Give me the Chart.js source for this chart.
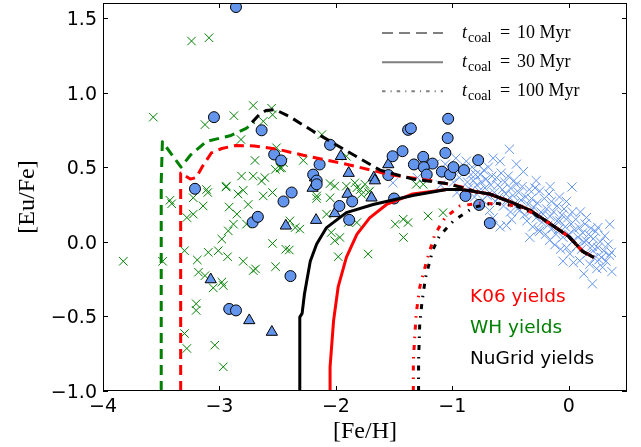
<!DOCTYPE html>
<html><head><meta charset="utf-8">
<script src="https://cdn.jsdelivr.net/npm/chart.js@4.4.0/dist/chart.umd.min.js"></script>
<style>html,body{margin:0;padding:0;background:#fff;overflow:hidden}canvas{display:block}</style>
</head><body>
<canvas id="c" width="641" height="447"></canvas>
<script>
// ---- axis ticks ----
const xTicks = [-4, -3, -2, -1, 0];
const yTicks = [-1.0, -0.5, 0.0, 0.5, 1.0, 1.5];

// ---- model curves ([Fe/H], [Eu/Fe]) ----
const trendTail = [[-0.80,0.335],[-0.68,0.32],[-0.51,0.27],[-0.33,0.21],[-0.16,0.12],[0.0,0.035],[0.12,-0.065],[0.215,-0.105]];
const trendTailLate = [[-0.16,0.12],[0.0,0.035],[0.12,-0.065],[0.215,-0.105]];

const wh10 = [[-3.50,-1.0],[-3.50,0.40],[-3.49,0.67],[-3.33,0.50],[-3.25,0.58],[-3.11,0.673],[-2.91,0.71],[-2.77,0.76],[-2.70,0.80]];
const k06_10 = [[-3.333,-1.0],[-3.333,0.46],[-3.25,0.42],[-3.20,0.43],[-3.15,0.50],[-3.07,0.595],[-2.98,0.625],[-2.86,0.645],[-2.70,0.642],[-2.50,0.62],[-2.28,0.58],[-1.91,0.52],[-1.54,0.45],[-1.19,0.41],[-0.99,0.38],[-0.88,0.36]];
const nug10 = [[-2.72,0.80],[-2.66,0.85],[-2.60,0.88],[-2.52,0.885],[-2.40,0.84],[-2.195,0.74],[-1.91,0.61],[-1.62,0.48],[-1.34,0.42],[-1.05,0.39],[-0.90,0.36]];
const k06_30 = [[-2.05,-1.0],[-2.05,-0.84],[-2.02,-0.53],[-1.98,-0.30],[-1.91,-0.105],[-1.82,0.05],[-1.71,0.16],[-1.565,0.25],[-1.34,0.32],[-1.05,0.35],[-0.92,0.35]];
const nug30 = [[-2.31,-1.0],[-2.31,-0.505],[-2.29,-0.48],[-2.27,-0.35],[-2.22,-0.13],[-2.165,-0.015],[-2.08,0.095],[-1.91,0.195],[-1.68,0.25],[-1.34,0.31],[-1.05,0.35],[-0.92,0.35]];
const k06_100 = [[-1.335,-1.0],[-1.335,-0.80],[-1.32,-0.60],[-1.31,-0.48],[-1.28,-0.305],[-1.22,-0.127],[-1.15,0.05],[-1.064,0.16],[-0.935,0.24],[-0.76,0.26],[-0.535,0.25],[-0.42,0.23],[-0.33,0.20]];
const nug100 = [[-1.29,-1.0],[-1.29,-0.80],[-1.28,-0.55],[-1.26,-0.40],[-1.23,-0.24],[-1.17,-0.06],[-1.11,0.04],[-0.99,0.14],[-0.82,0.23],[-0.65,0.26],[-0.45,0.24],[-0.33,0.20]];

// ---- observations ----
const haloX = [ // green crosses
[-3.24,1.345],[-3.09,1.367],[-3.568,0.835],[-2.876,0.845],[-2.71,0.913],[-2.552,0.895],[-3.124,0.785],[-2.624,0.807],[-2.544,0.851],[-2.815,0.685],[-2.51,0.63],[-2.695,0.545],[-2.45,0.53],[-2.52,0.485],[-2.466,0.495],[-2.81,0.44],[-2.71,0.44],[-2.638,0.407],[-2.61,0.43],[-2.94,0.373],[-3.11,0.35],[-3.10,0.33],[-2.84,0.32],[-2.796,0.345],[-3.225,0.295],[-2.544,0.33],[-2.624,0.307],[-3.425,0.278],
[-2.944,0.367],[-3.41,0.255],[-3.14,0.24],[-3.28,0.162],[-3.225,0.185],[-2.916,0.233],[-2.85,0.185],[-2.753,0.25],[-2.88,0.118],[-2.767,0.118],[-2.924,0.073],[-2.98,0.018],[-3.096,-0.071],[-3.01,-0.06],[-2.93,-0.10],[-3.30,-0.06],[-3.19,-0.122],[-3.826,-0.131],[-3.488,-0.131],[-2.796,-0.131],[-2.544,-0.011],[-2.43,-0.05],[-2.518,-0.167],[-2.71,-0.193],[-2.69,-0.182],[-3.18,-0.204],[-3.124,-0.227],[-3.053,-0.309],[-2.98,-0.27],[-2.967,-0.293],[-3.20,-0.415],[-3.20,-0.46],[-3.30,-0.615],[-3.28,-0.715],[-3.04,-0.693],[-2.967,-0.838],
[-2.12,0.718],[-2.28,0.545],[-1.91,0.573],[-2.48,0.495],[-2.165,0.307],[-2.05,0.39],[-2.01,0.373],[-1.91,0.373],[-1.837,0.395],[-1.79,0.35],[-1.75,0.385],[-1.72,0.33],[-2.05,0.295],[-1.31,0.385],
[-2.395,0.14],[-2.31,0.085],[-2.35,0.095],[-2.40,-0.055],[-2.165,0.29],[-2.08,0.185],[-2.04,0.062],[-2.01,0.007],[-1.98,-0.10],[-1.966,0.029],[-1.723,-0.082],[-1.894,0.129],[-1.82,0.129],[-1.49,0.118],[-1.422,0.151],[-1.38,0.129],[-1.42,0.029],[-1.208,0.173],[-1.08,0.195],[-1.82,0.362],[-1.78,0.318],[-1.71,0.34],[-1.25,0.385]];

const circles = [
[-2.858,1.573],[-3.047,0.835],[-2.638,0.747],[-2.53,0.585],[-2.47,0.545],[-3.21,0.355],[-2.45,0.27],[-2.38,0.33],[-2.715,0.13],[-2.67,0.167],[-2.39,-0.23],[-2.916,-0.45],[-2.858,-0.46],
[-1.036,0.824],[-1.38,0.75],[-1.356,0.76],[-1.04,0.695],[-2.05,0.65],[-1.428,0.607],[-1.06,0.595],[-1.513,0.573],[-1.25,0.569],[-1.33,0.518],[-1.17,0.524],[-1.245,0.50],[-2.14,0.518],[-1.22,0.45],[-1.09,0.47],[-1.02,0.45],[-2.195,0.45],[-2.165,0.41],[-1.55,0.447],
[-2.165,0.385],[-1.97,0.24],[-1.86,0.27],[-1.886,0.147],[-1.5,0.29],[-0.887,0.307],[-0.778,0.547],[-0.99,0.50],[-0.90,0.48],[-0.77,0.247],[-0.678,0.125]];

const triangles = [[-3.075,-0.253],[-2.744,-0.527],[-2.55,-0.605],[-2.43,0.107],[-1.957,0.573],[-1.89,0.46],[-1.55,0.518],[-1.674,0.43],[-2.18,0.43],[-2.2,0.36],[-1.9,0.32],[-1.694,0.295],[-2.17,0.145],[-2.009,0.19],[-1.665,0.41]];

const diskX = [ // light-blue crosses
[-1.51,0.395],[-1.30,0.43],[-1.22,0.48],[-1.15,0.52],[-1.10,0.38],[-1.06,0.52],[-1.02,0.45],[-0.99,0.40],[-0.97,0.56],[-0.96,0.33],[-0.94,0.43],[-0.93,0.48],
[-0.89,0.50],[-0.88,0.54],[-0.87,0.40],[-0.86,0.36],[-0.84,0.45],[-0.83,0.50],[-0.82,0.41],[-0.81,0.30],[-0.80,0.45],[-0.79,0.38],[-0.78,0.52],[-0.77,0.34],[-0.76,0.45],[-0.75,0.40],[-0.74,0.28],[-0.73,0.48],[-0.72,0.36],[-0.71,0.42],[-0.70,0.31],
[-0.69,0.50],[-0.68,0.21],[-0.67,0.38],[-0.66,0.44],[-0.65,0.56],[-0.65,0.16],[-0.64,0.33],[-0.63,0.27],[-0.62,0.43],[-0.61,0.38],[-0.60,0.30],[-0.59,0.54],[-0.59,0.10],[-0.58,0.46],[-0.57,0.35],[-0.56,0.24],[-0.55,0.40],[-0.54,0.32],[-0.535,0.11],[-0.53,0.28],[-0.52,0.44],[-0.51,0.62],[-0.50,0.36],[-0.50,0.20],
[-0.49,0.15],[-0.48,0.31],[-0.47,0.41],[-0.46,0.26],[-0.45,0.52],[-0.45,0.385],[-0.44,0.22],[-0.43,0.33],[-0.42,0.21],[-0.41,0.28],[-0.40,0.37],[-0.39,0.47],[-0.38,0.18],[-0.37,0.30],[-0.36,0.14],[-0.35,0.25],[-0.34,0.35],[-0.335,0.03],[-0.33,0.20],[-0.32,0.29],[-0.31,0.10],[-0.30,0.23],
[-0.29,0.36],[-0.28,0.41],[-0.28,0.16],[-0.27,0.26],[-0.26,0.08],[-0.25,0.34],[-0.25,0.07],[-0.24,0.20],[-0.23,0.13],[-0.22,0.185],[-0.21,0.29],[-0.20,0.05],[-0.19,0.22],[-0.18,0.11],[-0.17,0.32],[-0.165,0.01],[-0.16,0.37],[-0.16,0.17],[-0.15,0.27],[-0.14,0.09],[-0.13,0.20],[-0.12,-0.02],[-0.11,0.05],[-0.10,0.24],[-0.10,0.14],
[-0.09,0.08],[-0.08,0.30],[-0.077,0.14],[-0.07,-0.05],[-0.06,0.18],[-0.05,-0.13],[-0.05,0.03],[-0.04,0.22],[-0.03,0.10],[-0.02,-0.04],[-0.02,0.27],[-0.01,0.16],[0.00,0.05],[0.01,-0.08],[0.02,0.12],[0.028,0.367],[0.03,0.20],[0.037,0.007],[0.04,-0.14],[0.05,0.08],[0.06,0.15],[0.07,-0.03],[0.08,0.03],[0.09,0.095],[0.094,-0.127],[0.10,0.20],
[0.11,-0.05],[0.12,0.06],[0.129,-0.215],[0.13,0.00],[0.14,0.12],[0.15,0.007],[0.151,0.162],[0.16,-0.08],[0.17,0.05],[0.18,-0.15],[0.19,0.09],[0.20,-0.03],[0.203,-0.282],[0.208,-0.06],[0.21,0.02],[0.22,-0.11],[0.23,0.07],[0.24,-0.18],[0.25,0.095],[0.25,-0.04],[0.26,-0.12],[0.27,0.00],[0.28,-0.105],[0.29,-0.171],[0.30,-0.06],[0.31,0.04],[0.32,-0.13],[0.338,-0.016],[0.35,-0.09],[0.352,0.118],[0.366,-0.071],[0.37,-0.20]];

// ---- text ----
const legendLabels = ['10 Myr', '30 Myr', '100 Myr'];
const yieldLabels = ['K06 yields', 'WH yields', 'NuGrid yields'];

const RED = '#ff0000', BLACK = '#000000', GREEN = '#008000', BLUE = '#6495ed';
const toXY = a => a.map(([x, y]) => ({x, y}));
const line = (label, pts, color, dash) => ({label, data: toXY(pts), showLine: true, borderColor: color,
  borderWidth: 3, borderDash: dash, pointRadius: 0, fill: false, tension: 0, borderCapStyle: 'butt', borderJoinStyle: 'round'});
const DASH = [10, 6], DOT = [5, 7, 1.5, 7];

const fmt = v => (v < 0 ? '\u2212' : '') + String(Math.abs(v));
const fmtY = v => (v < 0 ? '\u2212' : '') + Math.abs(v).toFixed(1);

const decor = {
  id: 'decor',
  afterDraw(chart) {
    const {ctx, chartArea: a, scales: {x, y}} = chart;
    ctx.save();
    ctx.strokeStyle = '#000'; ctx.lineWidth = 1;
    ctx.strokeRect(a.left + 0.5, a.top + 0.5, a.right - a.left - 1, a.bottom - a.top - 1);
    ctx.beginPath();
    for (const v of xTicks) {
      const p = Math.round(x.getPixelForValue(v)) + 0.5;
      ctx.moveTo(p, a.bottom); ctx.lineTo(p, a.bottom - 5);
      ctx.moveTo(p, a.top); ctx.lineTo(p, a.top + 5);
    }
    for (const v of yTicks) {
      const p = Math.round(y.getPixelForValue(v)) + 0.5;
      ctx.moveTo(a.left, p); ctx.lineTo(a.left + 5, p);
      ctx.moveTo(a.right, p); ctx.lineTo(a.right - 5, p);
    }
    ctx.stroke();

    // tick labels
    ctx.fillStyle = '#000'; ctx.font = '19px "DejaVu Sans"'; ctx.textBaseline = 'alphabetic';
    ctx.textAlign = 'center';
    for (const v of xTicks) ctx.fillText(fmt(v), x.getPixelForValue(v), a.bottom + 20.5);
    ctx.textAlign = 'right';
    for (const v of yTicks) ctx.fillText(fmtY(v), a.left - 6, y.getPixelForValue(v) + 7);

    // legend
    const rows = [37.5, 66.7, 95.7];
    const dashes = [[11, 6], [], [3.5, 5, 1.2, 5]];
    ctx.strokeStyle = '#808080'; ctx.lineWidth = 2;
    rows.forEach((b, i) => {
      ctx.setLineDash(dashes[i]);
      ctx.beginPath(); ctx.moveTo(382, b - 4.5); ctx.lineTo(443, b - 4.5); ctx.stroke();
    });
    ctx.setLineDash([]);
    ctx.fillStyle = '#000'; ctx.textAlign = 'left';
    rows.forEach((b, i) => {
      ctx.font = 'italic 18px "Liberation Serif"'; ctx.fillText('t', 462, b);
      ctx.font = '14px "Liberation Serif"'; ctx.fillText('coal', 468, b + 4);
      ctx.font = '18px "Liberation Serif"'; ctx.fillText('=', 500, b); ctx.fillText(legendLabels[i], 517, b);
    });

    // yields text
    ctx.font = '18.5px "DejaVu Sans"';
    const yc = [RED, GREEN, BLACK], yb = [301.7, 333.3, 364];
    yieldLabels.forEach((t, i) => { ctx.fillStyle = yc[i]; ctx.fillText(t, 470, yb[i]); });

    // axis titles
    ctx.fillStyle = '#000';
    ctx.font = '24px "Liberation Serif"'; ctx.textAlign = 'center'; ctx.textBaseline = 'middle';
    ctx.fillText('[Fe/H]', (a.left + a.right) / 2, 432);
    ctx.translate(27.5, (a.top + a.bottom) / 2); ctx.rotate(-Math.PI / 2);
    ctx.fillText('[Eu/Fe]', 0, 0);
    ctx.restore();
  }
};

new Chart(document.getElementById('c'), {
  type: 'scatter',
  data: {
    datasets: [
      line('NuGrid 100', nug100.concat(trendTailLate), BLACK, DOT),
      line('K06 100', k06_100.concat(trendTailLate), RED, DOT),
      line('NuGrid 10', nug10.concat(trendTail), BLACK, DASH),
      line('K06 10', k06_10.concat(trendTail), RED, DASH),
      line('NuGrid 30', nug30.concat(trendTail), BLACK, []),
      line('K06 30', k06_30.concat(trendTail), RED, []),
      line('WH 10', wh10, GREEN, DASH),
      {label: 'circles', data: toXY(circles), pointStyle: 'circle', pointRadius: 5.5, backgroundColor: BLUE, borderColor: '#000', borderWidth: 1},
      {label: 'triangles', data: toXY(triangles), pointStyle: 'triangle', pointRadius: 6.5, backgroundColor: BLUE, borderColor: '#000', borderWidth: 1},
      {label: 'halo', data: toXY(haloX), pointStyle: 'crossRot', pointRadius: 6, borderColor: GREEN, backgroundColor: GREEN, borderWidth: 1},
      {label: 'disk', data: toXY(diskX), pointStyle: 'crossRot', pointRadius: 6.5, borderColor: BLUE, backgroundColor: BLUE, borderWidth: 1}
    ]
  },
  options: {
    responsive: false, animation: false, devicePixelRatio: 1, events: [],
    layout: {autoPadding: false, padding: {top: 3, right: 14, left: 0, bottom: 0}},
    plugins: {legend: {display: false}, tooltip: {enabled: false}, title: {display: false}},
    scales: {
      x: {type: 'linear', min: -4, max: 0.5,
        afterBuildTicks: s => { s.ticks = xTicks.map(v => ({value: v})); },
        afterFit: s => { s.height = 56; s.paddingLeft = 0; s.paddingRight = 0; },
        grid: {display: false, drawTicks: false}, border: {display: false},
        ticks: {display: false}},
      y: {type: 'linear', min: -1, max: 1.6,
        afterBuildTicks: s => { s.ticks = yTicks.map(v => ({value: v})); },
        afterFit: s => { s.width = 103; s.paddingTop = 0; s.paddingBottom = 0; },
        grid: {display: false, drawTicks: false}, border: {display: false},
        ticks: {display: false}}
    }
  },
  plugins: [decor]
});
</script></body></html>
